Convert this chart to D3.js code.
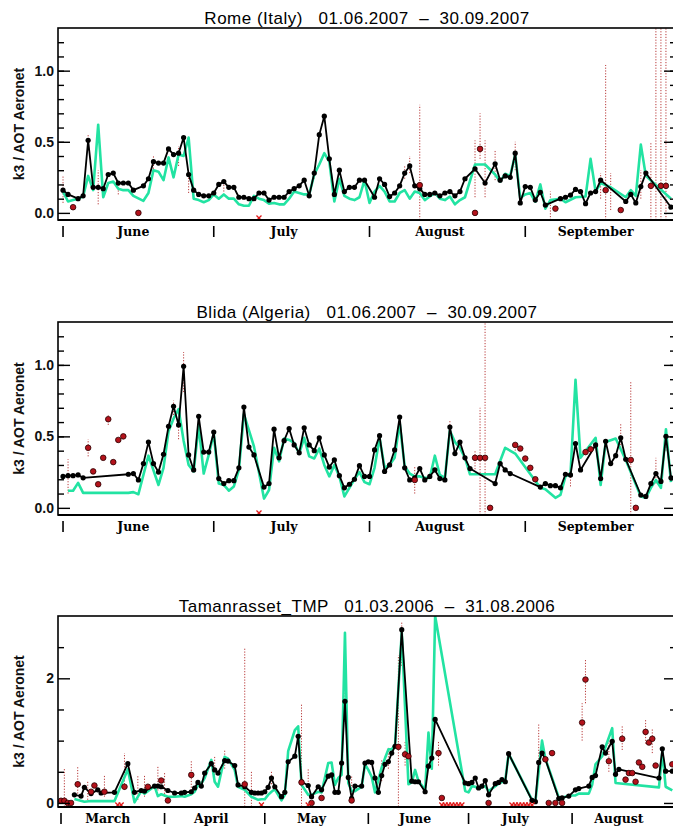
<!DOCTYPE html>
<html>
<head>
<meta charset="utf-8">
<script src="https://cdn.jsdelivr.net/npm/d3@7"></script>
<style>
  body { margin: 0; background: #fff; }
  svg { display: block; }
</style>
</head>
<body>
<div id="chart"></div>
<script>
/*
    Data (day offset from first day of the period, value)
*/
const summerMonths = ["June", "July", "August", "September"];
const summerStarts = [0, 30, 61, 92];
const springMonths = ["March", "April", "May", "June", "July", "August"];
const springStarts = [0, 31, 61, 92, 122, 153];

// Rome (Italy)
const romeK3 = [[0,.16],[1,.13],[3,.10],[4,.12],[5,.51],[6,.18],[7,.18],[8,.17],[9,.27],[10,.28],[11,.21],[12,.21],[13,.21],[14,.16],[16,.19],[17,.24],[18,.36],[19,.35],[20,.35],[21,.45],[22,.41],[23,.42],[24,.53],[25,.27],[26,.16],[27,.13],[28,.12],[29,.12],[30,.14],[31,.20],[32,.22],[33,.18],[34,.18],[35,.11],[36,.11],[37,.10],[38,.10],[39,.14],[40,.14],[41,.09],[42,.11],[43,.11],[44,.11],[45,.15],[46,.17],[47,.19],[48,.23],[49,.12],[50,.28],[51,.55],[52,.68],[53,.38],[54,.13],[55,.30],[56,.15],[57,.18],[58,.18],[59,.23],[60,.23],[62,.11],[63,.24],[64,.20],[65,.115],[66,.14],[67,.19],[68,.28],[69,.33],[70,.19],[71,.17],[72,.13],[73,.13],[74,.14],[75,.12],[76,.14],[77,.15],[78,.12],[79,.15],[80,.24],[82,.31],[84,.21],[86,.345],[87,.23],[88,.26],[89,.25],[90,.42],[91,.07],[92,.185],[93,.18],[94,.09],[95,.145],[96,.055],[99,.10],[100,.11],[101,.125],[102,.165],[103,.15],[104,.065],[105,.14],[106,.15],[107,.23],[112,.08],[113,.13],[114,.07],[115,.185],[116,.28],[121,.04]];
const romeAot = [[0,.15],[1,.08],[2,.09],[3,.10],[4,.115],[5,.26],[6,.16],[7,.62],[8,.11],[9,.21],[10,.22],[11,.17],[12,.16],[13,.16],[14,.12],[16,.085],[17,.14],[18,.30],[19,.29],[20,.23],[21,.39],[22,.25],[23,.41],[24,.40],[25,.53],[26,.10],[27,.09],[28,.075],[29,.09],[30,.13],[31,.10],[32,.13],[33,.10],[34,.10],[35,.06],[36,.05],[37,.05],[38,.12],[39,.10],[40,.09],[41,.065],[42,.07],[43,.06],[44,.06],[45,.10],[46,.15],[47,.14],[48,.13],[49,.13],[50,.27],[51,.34],[52,.42],[53,.36],[54,.08],[55,.24],[56,.12],[57,.10],[58,.09],[59,.11],[60,.23],[61,.07],[62,.15],[63,.19],[64,.15],[65,.08],[66,.08],[67,.14],[68,.16],[69,.10],[70,.15],[71,.14],[72,.09],[73,.115],[74,.14],[75,.10],[76,.09],[77,.115],[78,.06],[79,.09],[80,.11],[82,.34],[84,.34],[86,.27],[87,.22],[88,.275],[89,.26],[90,.41],[91,.105],[92,.13],[93,.14],[94,.08],[95,.20],[96,.03],[97,.09],[99,.10],[100,.075],[102,.11],[104,.115],[105,.38],[106,.15],[107,.21],[109,.18],[112,.11],[113,.16],[114,.12],[115,.48],[116,.26],[121,.10]];
const romeExtra = [[2,.04],[15,0],[71,.195],[82,0],[83,.45],[98,.03],[108,.16],[111,.02],[117,.19],[119,.19],[120,.19]];
const romeErr = [[0,.07,.26],[5,.44,.55],[7,.06,.30],[11,.13,.20],[18,.31,.40],[23,.33,.47],[25,.14,.30],[32,.15,.22],[50,.24,.32],[68,.24,.33],[69,.28,.40],[71,-.05,.76],[82,.11,.51],[83,.38,.70],[84,.11,.51],[86,.23,.44],[90,.30,.50],[97,-.05,.15],[107,.10,.28],[108,-.05,1.04],[109,.02,.28],[115,.10,.30],[117,-.05,.49],[118,-.05,1.3],[119,-.05,1.3],[120,-.05,1.3]];
const romeFlags = [39];

// Blida (Algeria)
const blidaK3 = [[0,.22],[1,.225],[2,.225],[3,.23],[4,.21],[13,.235],[14,.24],[15,.195],[16,.31],[17,.46],[18,.31],[19,.25],[20,.375],[21,.57],[22,.71],[23,.58],[24,.99],[25,.37],[26,.265],[27,.64],[28,.39],[29,.39],[30,.53],[31,.205],[32,.17],[33,.19],[34,.19],[35,.28],[36,.705],[37,.425],[38,.37],[40,.145],[41,.17],[42,.55],[43,.35],[44,.47],[45,.555],[46,.44],[47,.385],[48,.56],[49,.44],[50,.40],[51,.49],[52,.37],[53,.285],[54,.335],[55,.225],[56,.14],[57,.165],[58,.20],[59,.295],[60,.22],[61,.22],[62,.405],[63,.505],[64,.255],[65,.30],[66,.405],[67,.635],[68,.28],[69,.195],[70,.21],[71,.275],[72,.195],[73,.22],[74,.265],[75,.205],[76,.195],[77,.565],[78,.38],[79,.46],[80,.35],[81,.275],[86,.17],[87,.31],[88,.265],[89,.24],[95,.145],[96,.17],[97,.155],[98,.155],[99,.14],[100,.235],[101,.23],[102,.45],[103,.265],[106,.44],[107,.205],[108,.465],[109,.31],[110,.365],[111,.49],[112,.34],[115,.09],[116,.08],[117,.17],[118,.24],[119,.185],[120,.50],[121,.21]];
const blidaAot = [[1,.12],[2,.12],[3,.175],[4,.105],[13,.105],[14,.11],[15,.095],[17,.365],[19,.16],[20,.28],[21,.535],[22,.625],[23,.69],[24,.47],[25,.30],[26,.255],[27,.575],[28,.24],[29,.37],[30,.52],[31,.17],[32,.16],[33,.12],[34,.15],[35,.265],[36,.655],[38,.43],[40,.065],[41,.125],[42,.42],[43,.325],[44,.485],[45,.475],[46,.455],[47,.38],[48,.49],[49,.36],[50,.345],[51,.415],[52,.30],[53,.22],[54,.30],[55,.22],[56,.08],[58,.20],[59,.25],[60,.18],[61,.165],[62,.28],[63,.49],[64,.28],[65,.30],[66,.35],[67,.595],[68,.29],[69,.24],[70,.22],[71,.22],[72,.21],[73,.21],[74,.365],[75,.23],[76,.21],[77,.54],[78,.46],[79,.42],[80,.35],[81,.235],[86,.235],[88,.42],[90,.38],[95,.14],[96,.13],[98,.07],[99,.09],[100,.22],[101,.235],[102,.895],[103,.35],[106,.49],[107,.16],[108,.46],[110,.485],[112,.335],[115,.08],[116,.07],[117,.14],[118,.195],[119,.14],[120,.55],[121,.18]];
const blidaExtra = [[5,.42],[6,.255],[7,.165],[8,.35],[9,.62],[10,.32],[11,.475],[12,.50],[70,.195],[82,.35],[83,.35],[84,.35],[85,0],[90,.44],[91,.415],[92,.345],[93,.28],[94,.20],[104,.39],[105,.41],[113,.335],[114,0]];
const blidaErr = [[1,.10,.34],[5,.36,.48],[9,.58,.65],[22,.63,.75],[23,.48,.61],[24,.81,1.09],[70,.10,.29],[77,.52,.61],[82,.27,.40],[83,-.05,.70],[84,-.05,1.3],[90,.40,.46],[101,.15,.32],[111,.40,.59],[113,-.05,.89],[118,.17,.35],[120,.40,.55]];
const blidaFlags = [39];

// Tamanrasset_TMP
const tamK3 = [[4,.13],[6,.11],[7,.25],[9,.15],[11,.21],[12,.16],[16,.17],[20,.63],[22,.17],[24,.20],[25,.19],[28,.27],[29,.27],[30,.26],[32,.20],[34,.16],[36,.16],[37,.17],[39,.18],[40,.24],[41,.33],[42,.27],[43,.48],[45,.63],[46,.53],[47,.48],[49,.68],[50,.67],[52,.60],[53,.29],[55,.26],[57,.17],[58,.16],[59,.16],[60,.16],[61,.18],[62,.25],[63,.40],[64,.26],[66,.10],[67,.17],[68,.66],[70,.75],[71,1.07],[72,.34],[74,.28],[75,.10],[77,.26],[78,.21],[80,.43],[81,.45],[82,.17],[83,.17],[84,.64],[85,1.63],[86,.41],[87,.075],[88,.27],[90,.27],[91,.64],[92,.66],[93,.65],[94,.40],[95,.17],[96,.44],[97,.62],[98,.66],[99,.80],[100,.91],[102,2.78],[105,.35],[106,.34],[107,.34],[109,.18],[110,.59],[111,.72],[112,1.34],[121,.32],[122,.31],[123,.33],[124,.40],[125,.24],[126,.27],[127,.36],[128,.13],[130,.31],[131,.33],[132,.375],[133,.34],[134,.79],[141,.04],[142,.02],[143,.65],[144,.80],[145,.70],[149,.07],[150,.08],[152,.11],[154,.21],[155,.23],[158,.27],[159,.41],[160,.44],[162,.90],[163,.80],[165,.99],[166,.46],[167,.54],[179,.40],[180,.87],[181,.51],[183,.51]];
const tamAot = [[4,.065],[7,.02],[9,.03],[12,.03],[16,.03],[20,.54],[22,.01],[24,.19],[25,.15],[28,.27],[29,.11],[30,.14],[32,.10],[34,.10],[36,.11],[37,.10],[39,.14],[40,.18],[41,.29],[42,.31],[43,.40],[45,.69],[46,.34],[47,.26],[49,.74],[50,.71],[52,.53],[53,.26],[55,.21],[57,.10],[59,.05],[60,.06],[61,.06],[62,.13],[63,.18],[64,.22],[66,.04],[67,.13],[68,.83],[70,1.17],[71,1.23],[72,.29],[74,.13],[75,.13],[77,.18],[78,.17],[80,.64],[81,.65],[82,.29],[83,.40],[84,.45],[85,2.73],[86,.32],[87,.19],[88,.19],[90,.26],[91,.62],[92,.53],[93,.42],[94,.17],[96,.57],[97,.72],[98,.86],[99,.86],[100,.93],[102,2.74],[104,.30],[105,.33],[106,.53],[107,.35],[109,.21],[110,1.13],[111,.55],[112,3.0],[121,.19],[122,.17],[123,.27],[124,.26],[125,.23],[127,.27],[128,.19],[130,.27],[131,.31],[133,.36],[134,.79],[141,.05],[142,.02],[144,1.0],[145,.71],[149,.09],[150,.08],[152,.12],[154,.12],[155,.15],[158,.15],[159,.29],[160,.62],[162,.75],[165,1.2],[166,.32],[179,.25],[180,.82],[181,.26],[183,.20]];
const tamExtra = [[0,.035],[1,.035],[2,0],[3,0],[5,.30],[9,.18],[10,.28],[13,.18],[19,.26],[26,.26],[30,.36],[32,.04],[39,.45],[55,.30],[72,.33],[75,0],[78,.08],[87,.04],[101,.90],[103,.78],[104,.75],[113,.80],[114,.08],[128,0],[145,.70],[146,0],[147,.80],[148,0],[150,0],[156,1.29],[157,1.98],[164,.67],[168,1.03],[169,.375],[170,.48],[171,.48],[172,.34],[173,.65],[174,.58],[175,1.14],[176,.97],[177,1.03],[178,.60],[183,.62]];
const tamErr = [[1,-.06,.55],[5,.15,.58],[8,.05,.35],[13,.10,.45],[19,.21,.80],[23,.05,.45],[25,.10,.45],[29,.20,.58],[31,.10,.50],[39,.20,.68],[46,.45,.75],[49,.55,.85],[55,-.06,2.5],[57,-.06,.50],[63,.30,.50],[72,-.06,1.6],[74,.25,.55],[85,1.3,1.9],[87,0,.45],[96,.35,.70],[98,.55,.90],[101,-.06,2.37],[102,2.2,2.9],[103,.6,1.0],[113,.60,1.0],[143,.70,1.26],[156,1.0,1.6],[157,1.6,2.3],[164,.5,1.0],[168,.85,1.25],[175,.95,1.35],[177,.80,1.2]];
const tamFlags = [17, 18, 60, 74, 114, 115, 116, 117, 118, 119, 120, 135, 136, 137, 138, 139, 140, 141];

/*
    Panel setup
*/
const panels = [
    {title: "Rome (Italy)   01.06.2007  \u2013  30.09.2007", top: 28, bottom: 220,
     yDomain: [-0.05, 1.3], xDomain: [-1, 122], months: summerMonths, starts: summerStarts,
     major: [0, 0.5, 1.0], minor: d3.range(0.1, 1.3, 0.1), fmt: d3.format(".1f"),
     k3: romeK3, aot: romeAot, extra: romeExtra, err: romeErr, flags: romeFlags},
    {title: "Blida (Algeria)   01.06.2007  \u2013  30.09.2007", top: 322, bottom: 515,
     yDomain: [-0.05, 1.3], xDomain: [-1, 122], months: summerMonths, starts: summerStarts,
     major: [0, 0.5, 1.0], minor: d3.range(0.1, 1.3, 0.1), fmt: d3.format(".1f"),
     k3: blidaK3, aot: blidaAot, extra: blidaExtra, err: blidaErr, flags: blidaFlags},
    {title: "Tamanrasset_TMP   01.03.2006  \u2013  31.08.2006", top: 616, bottom: 807,
     yDomain: [-0.065, 3.0], xDomain: [-0.9, 184.1], months: springMonths, starts: springStarts,
     major: [0, 2], minor: [0.5, 1, 1.5, 2.5], fmt: d3.format("d"),
     k3: tamK3, aot: tamAot, extra: tamExtra, err: tamErr, flags: tamFlags}
];

const width = 673;
const height = 830;
const left = 58;
const right = 676;
const sans = "'Liberation Sans', Arial, sans-serif";
const serif = "'DejaVu Serif', serif";

const svg = d3.select("#chart").append("svg")
    .attr("width", width)
    .attr("height", height);
svg.append("rect").attr("width", width).attr("height", height).attr("fill", "#fff");

panels.forEach((p, i) => {
    const x = d3.scaleLinear().domain(p.xDomain).range([left, right]);
    const y = d3.scaleLinear().domain(p.yDomain).range([p.bottom, p.top]);
    const g = svg.append("g");

    // Clip
    g.append("clipPath").attr("id", `clip${i}`)
        .append("rect")
        .attr("x", left).attr("y", p.top)
        .attr("width", right - left).attr("height", p.bottom - p.top);
    const plot = g.append("g").attr("clip-path", `url(#clip${i})`);

    // Error bars
    plot.selectAll(".err").data(p.err).enter().append("line")
        .attr("x1", d => x(d[0])).attr("x2", d => x(d[0]))
        .attr("y1", d => y(d[1])).attr("y2", d => y(d[2]))
        .attr("stroke", "#b83a3a")
        .attr("stroke-width", 1)
        .attr("stroke-dasharray", "1.2,1.6");

    const line = d3.line().x(d => x(d[0])).y(d => y(d[1]));

    // Aeronet line
    plot.append("path").datum(p.aot)
        .attr("d", line)
        .attr("fill", "none")
        .attr("stroke", "#22e3a2")
        .attr("stroke-width", 2.6)
        .attr("stroke-linejoin", "round");

    // k3 line + dots
    plot.append("path").datum(p.k3)
        .attr("d", line)
        .attr("fill", "none")
        .attr("stroke", "#000")
        .attr("stroke-width", 1.8)
        .attr("stroke-linejoin", "round");
    plot.selectAll(".k3").data(p.k3).enter().append("circle")
        .attr("cx", d => x(d[0])).attr("cy", d => y(d[1]))
        .attr("r", 2.6).attr("fill", "#000");

    // Extra red dots
    plot.selectAll(".extra").data(p.extra).enter().append("circle")
        .attr("cx", d => x(d[0])).attr("cy", d => y(d[1]))
        .attr("r", 2.8)
        .attr("fill", "#b3121b")
        .attr("stroke", "#2a0000")
        .attr("stroke-width", 0.8);

    // Flags (red crosses on the bottom)
    const fy = p.bottom - 2;
    p.flags.forEach(f => {
        const fx = x(f);
        g.append("path")
            .attr("d", `M${fx - 2.5},${fy - 2.5}L${fx + 2.5},${fy + 2.5}M${fx - 2.5},${fy + 2.5}L${fx + 2.5},${fy - 2.5}`)
            .attr("stroke", "#e01818")
            .attr("stroke-width", 1.3);
    });

    // Axes
    const yl = g.append("g").attr("transform", `translate(${left},0)`)
        .call(d3.axisLeft(y).tickValues(p.major).tickSize(-12).tickSizeOuter(0).tickPadding(4).tickFormat(p.fmt));
    g.append("g").attr("transform", `translate(${left},0)`)
        .call(d3.axisLeft(y).tickValues(p.minor).tickSize(-6).tickSizeOuter(0).tickFormat(""));
    g.append("g").attr("transform", `translate(${right},0)`)
        .call(d3.axisRight(y).tickValues(p.major).tickSize(-12).tickSizeOuter(0).tickFormat(""));
    g.append("g").attr("transform", `translate(${right},0)`)
        .call(d3.axisRight(y).tickValues(p.minor).tickSize(-6).tickSizeOuter(0).tickFormat(""));
    g.selectAll(".domain").remove();
    g.selectAll(".tick line").attr("stroke", "#000").attr("stroke-width", 1.4);
    yl.selectAll("text")
        .style("font-family", sans)
        .style("font-size", "14px")
        .style("font-weight", "bold")
        .attr("fill", "#111");

    // Frame
    g.append("rect")
        .attr("x", left).attr("y", p.top)
        .attr("width", right - left).attr("height", p.bottom - p.top)
        .attr("fill", "none").attr("stroke", "#000").attr("stroke-width", 1.6);
    g.append("line")
        .attr("x1", left).attr("x2", right)
        .attr("y1", p.bottom).attr("y2", p.bottom)
        .attr("stroke", "#000").attr("stroke-width", 2.2);

    // Months
    g.selectAll(".sep").data(p.starts).enter().append("line")
        .attr("x1", d => x(d)).attr("x2", d => x(d))
        .attr("y1", p.bottom + 6).attr("y2", p.bottom + 17)
        .attr("stroke", "#000").attr("stroke-width", 1.6);
    g.selectAll(".month").data(p.months).enter().append("text")
        .attr("x", (d, j) => x(p.starts[j] + 14))
        .attr("y", p.bottom + 16)
        .attr("text-anchor", "middle")
        .style("font-family", serif)
        .style("font-size", "12.5px")
        .style("font-weight", "bold")
        .text(d => d);

    // Title
    g.append("text")
        .attr("x", (left + right) / 2)
        .attr("y", p.top - 4)
        .attr("text-anchor", "middle")
        .style("font-family", sans)
        .style("font-size", "17px")
        .style("letter-spacing", "0.5px")
        .style("white-space", "pre")
        .text(p.title);

    // Y label
    const cy = (p.top + p.bottom) / 2;
    g.append("text")
        .attr("transform", `translate(24,${cy}) rotate(-90)`)
        .attr("text-anchor", "middle")
        .style("font-family", sans)
        .style("font-size", "14px")
        .style("font-weight", "bold")
        .attr("fill", "#111")
        .text("k3 / AOT Aeronet");
});
</script>
</body>
</html>
